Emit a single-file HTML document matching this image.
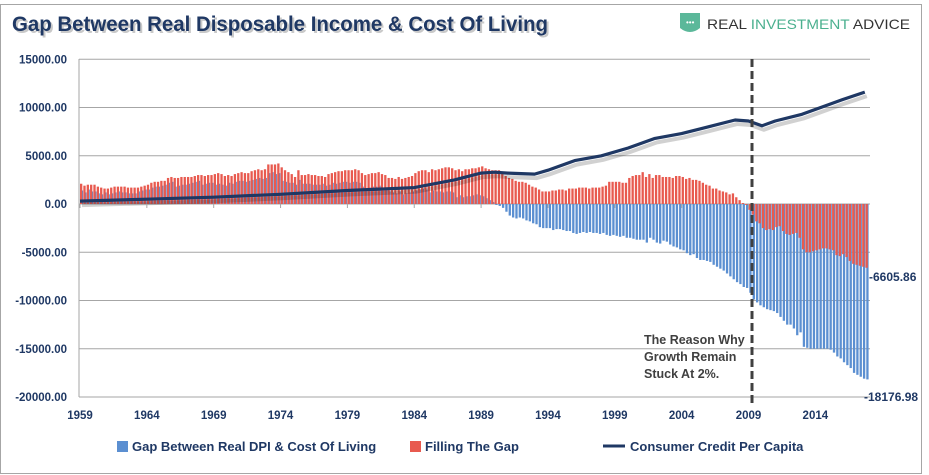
<!DOCTYPE html>
<html><head><meta charset="utf-8"><style>
html,body{margin:0;padding:0;background:#fff}
svg{display:block;font-family:"Liberation Sans",sans-serif}
</style></head><body>
<svg id="chart" width="929" height="475" viewBox="0 0 929 475">
<rect x="0.5" y="4.5" width="921" height="469" fill="#fff" stroke="#a6a6a6"/>
<text x="12" y="31" font-size="21" font-weight="bold" fill="#c9c9c9" textLength="536" lengthAdjust="spacingAndGlyphs" transform="translate(2,2)">Gap Between Real Disposable Income &amp; Cost Of Living</text>
<text x="12" y="31" font-size="21" font-weight="bold" fill="#1f3864" textLength="536" lengthAdjust="spacingAndGlyphs">Gap Between Real Disposable Income &amp; Cost Of Living</text>
<g>
<path d="M680 13 L700 13 L700 28 Q690 36 680 28 Z" fill="#5bb89a"/>
<text x="686" y="25" font-size="8" fill="#fff">•••</text>
<text x="707" y="29" font-size="14" fill="#333" textLength="203" lengthAdjust="spacingAndGlyphs"><tspan>REAL </tspan><tspan fill="#4bb08f">INVESTMENT</tspan><tspan> ADVICE</tspan></text>
</g>
<g id="grid"></g><g id="bars"></g><g id="line"></g><g id="axes"></g>
<line x1="752" y1="59" x2="752" y2="405" stroke="#404040" stroke-width="3" stroke-dasharray="8,4"/>
<g font-size="12.5" font-weight="bold" fill="#404040">
<text x="644" y="344">The Reason Why</text><text x="644" y="361">Growth Remain</text><text x="644" y="378">Stuck At 2%.</text></g>
<text x="869" y="281" font-size="12" font-weight="bold" fill="#1f3864">-6605.86</text>
<text x="864" y="401" font-size="12" font-weight="bold" fill="#1f3864">-18176.98</text>
<g font-size="13" font-weight="bold" fill="#1f3864">
<rect x="117" y="441" width="11" height="11" fill="#5b8fd1"/>
<text x="132" y="451">Gap Between Real DPI &amp; Cost Of Living</text>
<rect x="410" y="441" width="11" height="11" fill="#e85a4f"/>
<text x="425" y="451">Filling The Gap</text>
<line x1="603" y1="446" x2="625" y2="446" stroke="#1f3864" stroke-width="3"/>
<text x="630" y="451">Consumer Credit Per Capita</text>
</g>
</svg>
<script>
const yTicks=[15000,10000,5000,0,-5000,-10000,-15000,-20000];
const xTickYears=[1959,1964,1969,1974,1979,1984,1989,1994,1999,2004,2009,2014];
const startYear=1959;
const filling=[
2100,1900,2000,2000, 2000,1800,1700,1600, 1600,1700,1800,1800, 1800,1800,1700,1700, 1700,1700,1800,1900,
2000,2200,2300,2300, 2400,2400,2700,2800, 2700,2700,2800,2800, 2800,2800,2900,3000, 3000,2900,3000,3000,
3100,3200,3100,2900, 3000,2900,3100,3200, 3300,3200,3200,3400, 3500,3600,3500,3600, 4100,4100,4100,4200,
3800,3500,3300,3100, 2800,3500,3000,3000, 3100,3000,3000,2900, 2900,2800,3100,3200, 3300,3400,3400,3500,
3500,3500,3600,3500, 3200,3000,3100,3200, 3200,3300,3100,3000, 2700,2700,2600,2800, 2600,2700,2800,2900,
3200,3400,3500,3500, 3300,3600,3500,3600, 3700,3800,3800,3700, 3500,3600,3400,3600, 3600,3700,3700,3800,
3900,3700,3600,3500, 3500,3500,3300,2900, 2700,2600,2400,2300, 2300,2200,2000,1800, 1700,1500,1300,1300,
1300,1400,1400,1500, 1500,1400,1600,1600, 1600,1700,1700,1700, 1600,1700,1700,1700, 1800,1900,2300,2300,
2300,2300,2200,2200, 2700,2900,3000,3000, 3300,2800,3100,2700, 3000,3000,2800,2800, 2800,2700,2900,2900,
2800,2600,2700,2500, 2500,2400,2200,2000, 1900,1600,1600,1400, 1300,1200,1000,1100, 700,400,100,-100,
-600,-1100,-1800,-2000, -2500,-2700,-2600,-2700, -2400,-2300,-2800,-3100, -3200,-3100,-3000,-3500, -4700,-5000,-5000,-4900,
-4800,-4700,-4600,-4600, -4700,-4800,-5300,-5400, -5200,-5500,-5900,-6200, -6300,-6400,-6500,-6606];
const gap=[
1400,1200,1500,1300, 1300,1100,1000,1200, 1000,1100,1200,1300, 1200,1200,1100,1100, 1100,1300,1400,1500,
1500,1700,1800,1800, 1900,2000,2200,2300, 1800,1900,2000,2000, 2100,2200,2300,2400, 2000,2100,2200,2200,
2000,2100,2000,1900, 2200,2100,2300,2400, 2400,2300,2400,2500, 2600,2700,2600,2700, 3200,3300,3100,3200,
2400,2300,2200,2200, 2000,2500,2100,2100, 2100,2000,2000,2000, 2100,1900,2000,2200, 2100,2200,2300,2300,
2200,2300,2300,2200, 1800,1600,1700,1800, 1800,1900,1700,1600, 1300,1200,1100,1300, 1000,1100,1200,1300,
1400,1500,1600,1500, 1200,1400,1300,1300, 1200,1300,1300,1200, 700,900,700,800, 800,900,1000,900,
800,600,400,200, -100,-200,-400,-800, -1200,-1400,-1500,-1400, -1500,-1700,-1800,-2000, -2100,-2400,-2500,-2500,
-2500,-2700,-2600,-2600, -2700,-2800,-2800,-3000, -3100,-3000,-2900,-3000, -2900,-3000,-3000,-3100, -3000,-3200,-3300,-3200,
-3300,-3400,-3300,-3500, -3500,-3600,-3700,-3700, -3700,-4000,-3500,-3700, -4000,-4100,-3800,-3900, -4200,-4400,-4500,-4700,
-4800,-5100,-5300,-5200, -5600,-5800,-5800,-5900, -6000,-6300,-6500,-6700, -6900,-7200,-7500,-7800, -8100,-8300,-8600,-8700,
-9200,-9900,-10200,-10500, -10700,-10900,-11000,-11100, -11300,-11700,-12100,-12500, -12500,-12900,-13600,-13300, -14800,-14900,-15000,-15000,
-15000,-15000,-15000,-15000, -15100,-15400,-15800,-16000, -16400,-16700,-17000,-17500, -17700,-17900,-18100,-18177];
const creditYears=[1959,1964,1969,1974,1979,1984,1987,1989,1990,1991,1993,1994,1996,1998,2000,2002,2004,2006,2008,2009,2010,2011,2013,2015,2016,2017.7];
const credit=[300,500,700,1000,1400,1700,2500,3200,3300,3200,3100,3500,4500,5000,5800,6800,7300,8000,8700,8600,8100,8600,9300,10300,10800,11600];
const NS="http://www.w3.org/2000/svg";
const X=y=>80+(y-startYear)*13.37;
const Y=v=>204-v*(193/20000);
function mk(t,a,p){const e=document.createElementNS(NS,t);for(const k in a)e.setAttribute(k,a[k]);p.appendChild(e);return e;}
const grid=document.getElementById('grid'),axes=document.getElementById('axes'),bars=document.getElementById('bars'),lineG=document.getElementById('line');
yTicks.forEach(v=>{
 const l=mk('line',{x1:79,x2:870,y1:Y(v),y2:Y(v),stroke:'#a6a6a6','stroke-width':1},grid);
 
 
 const t=mk('text',{x:67,y:Y(v)+4,'text-anchor':'end','font-size':11.5,'font-weight':'bold',fill:'#1f3864'},axes);
 t.textContent=v.toFixed(2);
 
 
});
const ax=mk('line',{x1:79,x2:79,y1:59,y2:397,stroke:'#a6a6a6'},axes);


xTickYears.forEach(yr=>{
 const t=mk('text',{x:X(yr),y:419,'text-anchor':'middle','font-size':11.5,'font-weight':'bold',fill:'#1f3864'},axes);
 t.textContent=yr;
 
 
 const tk=mk('line',{x1:X(yr),x2:X(yr),y1:204,y2:208,stroke:'#a6a6a6'},axes);
 
 
});
function bar(v,i,col,off,name){
 const x=X(startYear+i/4)+off,y0=Y(0),y1=Y(v);
 const r=mk('rect',{x:x,y:Math.min(y0,y1),width:2.3,height:Math.abs(y1-y0),fill:col},bars);
 
 
}
gap.forEach((v,i)=>bar(v,i,'#5b8fd1',0.8,'gap-bar'));
filling.forEach((v,i)=>bar(v,i,'#e85a4f',0,'filling-bar'));
const pts=credit.map((v,i)=>X(creditYears[i]).toFixed(1)+','+Y(v).toFixed(1)).join(' ');
const sh=mk('polyline',{points:pts,fill:'none',stroke:'#000','stroke-opacity':0.18,'stroke-width':4,transform:'translate(2,4)'},lineG);


const pl=mk('polyline',{points:pts,fill:'none',stroke:'#1f3864','stroke-width':3.2,'stroke-linejoin':'round'},lineG);


</script>
</body></html>
